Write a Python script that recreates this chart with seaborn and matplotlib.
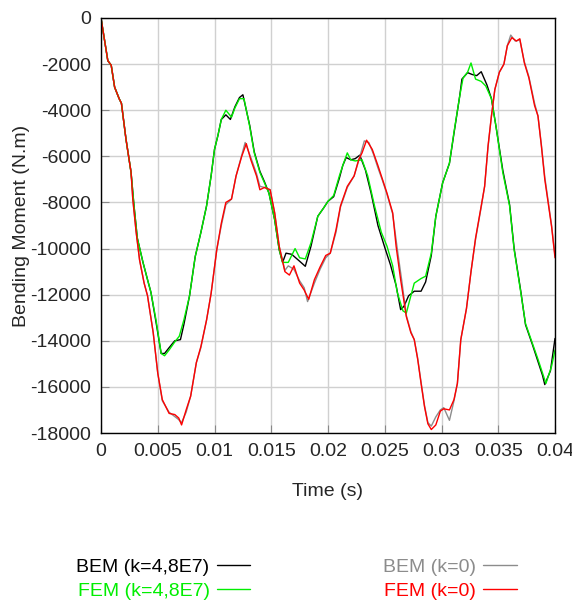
import numpy as np
import pandas as pd
import seaborn as sns
import matplotlib.pyplot as plt

# FEM (k=4,8E7) - green
fem_k_t = [0, 0.0006, 0.0009, 0.0012, 0.0016, 0.0018, 0.0022, 0.00265, 0.0029, 0.0032,
           0.0037, 0.0041, 0.0044, 0.00485, 0.0053, 0.0056, 0.0060, 0.0065, 0.0069, 0.0073,
           0.0078, 0.0083, 0.0088, 0.0093, 0.0097, 0.0100, 0.0103, 0.0106, 0.0110, 0.0115,
           0.0118, 0.0122, 0.0126, 0.0131, 0.0135, 0.0140, 0.0144, 0.0148, 0.0153, 0.0157,
           0.0160, 0.0165, 0.0171, 0.0175, 0.0180, 0.0185, 0.0191, 0.0196, 0.0200, 0.0205,
           0.0210, 0.0213, 0.0217, 0.0220, 0.0224, 0.0230, 0.0235, 0.0241, 0.0247, 0.0252,
           0.0257, 0.0261, 0.0266, 0.0269, 0.0273, 0.0276, 0.0282, 0.0286, 0.0291, 0.0295,
           0.0301, 0.0307, 0.0311, 0.0316, 0.0319, 0.0323, 0.0326, 0.0330, 0.0335, 0.0339,
           0.0344, 0.0348, 0.0354, 0.0360, 0.0364, 0.0370, 0.0374, 0.0380, 0.0385, 0.0389,
           0.0392, 0.0397, 0.0400]
fem_k_m = [0, -1850, -2050, -3000, -3500, -3700, -5250, -6700, -8100, -9550,
           -10600, -11350, -11900, -13100, -14550, -14650, -14400, -14050, -13800, -13100,
           -12050, -10350, -9300, -8150, -6850, -5700, -5100, -4400, -4000, -4300,
           -3900, -3500, -3500, -4700, -5850, -6700, -7150, -7600, -8750, -10050,
           -10600, -10600, -10000, -10400, -10450, -9750, -8600, -8250, -7950, -7700,
           -6850, -6400, -5850, -6150, -6200, -6150, -6850, -8150, -9300, -9900,
           -10750, -11900, -12700, -12800, -12050, -11500, -11300, -11200, -10200, -8600,
           -7150, -6300, -4950, -3400, -2600, -2350, -1950, -2650, -2750, -2950,
           -3500, -4700, -6700, -8150, -10050, -11950, -13250, -14100, -14800, -15400,
           -15850, -15100, -14400]

# BEM (k=4,8E7) - black
bem_k_t = [0, 0.0006, 0.0009, 0.0012, 0.0016, 0.0018, 0.0022, 0.00265, 0.0029, 0.0032,
           0.0037, 0.0041, 0.0044, 0.00485, 0.0053, 0.0056, 0.0060, 0.0065, 0.0070, 0.0073,
           0.0078, 0.0083, 0.0088, 0.0093, 0.0097, 0.0100, 0.0103, 0.0106, 0.0110, 0.0114,
           0.0118, 0.0122, 0.0125, 0.0131, 0.0135, 0.0140, 0.0144, 0.0148, 0.0153, 0.0157,
           0.0160, 0.0163, 0.0168, 0.0175, 0.0180, 0.0185, 0.0191, 0.0196, 0.0200, 0.0205,
           0.0210, 0.0213, 0.0216, 0.0220, 0.0224, 0.0228, 0.0233, 0.0238, 0.0244, 0.0250,
           0.0255, 0.0260, 0.0264, 0.0267, 0.0271, 0.0276, 0.0282, 0.0286, 0.0291, 0.0295,
           0.0301, 0.0307, 0.0311, 0.0316, 0.0318, 0.0323, 0.0327, 0.0331, 0.0335, 0.0340,
           0.0344, 0.0348, 0.0354, 0.0360, 0.0364, 0.0370, 0.0374, 0.0380, 0.0385, 0.0389,
           0.0391, 0.0396, 0.0400]
bem_k_m = [0, -1850, -2050, -3000, -3500, -3700, -5250, -6700, -8100, -9550,
           -10600, -11350, -11900, -13200, -14550, -14550, -14300, -14000, -13950, -13300,
           -12050, -10350, -9300, -8150, -6850, -5700, -5100, -4400, -4200, -4400,
           -3850, -3450, -3330, -4650, -5800, -6650, -7100, -7600, -8750, -10050,
           -10600, -10200, -10250, -10550, -10770, -9900, -8600, -8250, -7950, -7750,
           -6950, -6400, -6050, -6150, -6100, -5950, -6600, -7600, -9000, -9950,
           -10700, -11600, -12650, -12500, -12050, -11850, -11850, -11450, -10300, -8600,
           -7150, -6300, -5000, -3400, -2650, -2370, -2450, -2500, -2330, -2900,
           -3500, -4700, -6600, -8100, -10000, -11900, -13300, -14150, -14900, -15500,
           -15900, -15300, -13900]

# FEM (k=0) - red
fem_0_t = [0, 0.0006, 0.0009, 0.0012, 0.0016, 0.0018, 0.0022, 0.00265, 0.0028, 0.0031,
           0.0034, 0.0038, 0.0041, 0.0046, 0.0050, 0.0054, 0.0060, 0.0065, 0.00685, 0.0071,
           0.0075, 0.0079, 0.0084, 0.0088, 0.0093, 0.0097, 0.0102, 0.0106, 0.0110, 0.0115,
           0.0119, 0.0124, 0.0128, 0.0132, 0.0137, 0.0140, 0.0144, 0.0149, 0.0153, 0.0157,
           0.0162, 0.0166, 0.0170, 0.0175, 0.0179, 0.0183, 0.0188, 0.0193, 0.0198, 0.0202,
           0.0207, 0.0211, 0.0217, 0.0223, 0.0227, 0.0230, 0.0234, 0.0239, 0.0244, 0.0248,
           0.0252, 0.0257, 0.0260, 0.0264, 0.0269, 0.0273, 0.0276, 0.0279, 0.0282, 0.0285,
           0.0288, 0.0291, 0.0295, 0.0299, 0.0302, 0.0307, 0.0311, 0.0314, 0.0317, 0.0322,
           0.0326, 0.0330, 0.0335, 0.0338, 0.0341, 0.0344, 0.0347, 0.0351, 0.0355, 0.0358,
           0.0362, 0.0366, 0.0369, 0.0373, 0.0377, 0.0382, 0.0385, 0.0388, 0.0391, 0.0397,
           0.0400]
fem_0_m = [0, -1850, -2050, -3000, -3500, -3700, -5250, -6700, -7850, -9300,
           -10500, -11500, -12050, -13650, -15400, -16550, -17150, -17200, -17350, -17650,
           -17000, -16400, -14950, -14250, -13100, -11950, -10050, -8900, -8000, -7850,
           -6850, -6000, -5450, -6150, -6850, -7450, -7350, -7450, -8450, -9900,
           -11000, -11150, -10750, -11500, -11800, -12200, -11350, -10800, -10300, -10200,
           -9200, -8150, -7300, -6850, -6150, -5850, -5300, -5700, -6400, -7000,
           -7600, -8450, -9900, -11350, -12950, -13650, -13950, -14800, -15850, -16850,
           -17600, -17850, -17650, -17050, -16950, -17000, -16550, -15850, -13950, -12600,
           -11000, -9550, -8150, -7300, -5550, -4250, -3100, -2350, -2000, -1200,
           -850, -1000, -900, -1950, -2600, -3800, -4250, -5550, -7000, -9050,
           -10400]

# BEM (k=0) - gray
bem_0_t = [0, 0.0006, 0.0009, 0.0012, 0.0016, 0.0018, 0.0022, 0.00265, 0.0028, 0.0031,
           0.0034, 0.0038, 0.0041, 0.0046, 0.0050, 0.0054, 0.0060, 0.0064, 0.0068, 0.0071,
           0.0075, 0.0079, 0.0084, 0.0088, 0.0093, 0.0097, 0.0102, 0.0106, 0.0110, 0.0115,
           0.0119, 0.0124, 0.0127, 0.0132, 0.0137, 0.0140, 0.0144, 0.0149, 0.0153, 0.0157,
           0.0162, 0.0165, 0.0170, 0.0175, 0.0179, 0.0182, 0.0188, 0.0193, 0.0198, 0.0202,
           0.0207, 0.0211, 0.0217, 0.0223, 0.0227, 0.0232, 0.0236, 0.0240, 0.0244, 0.0248,
           0.0252, 0.0257, 0.0261, 0.0265, 0.0269, 0.0273, 0.0276, 0.0279, 0.0282, 0.0285,
           0.0288, 0.0291, 0.0295, 0.0299, 0.0302, 0.0307, 0.0311, 0.0314, 0.0317, 0.0322,
           0.0326, 0.0330, 0.0335, 0.0338, 0.0341, 0.0344, 0.0347, 0.0351, 0.0355, 0.0358,
           0.0361, 0.0365, 0.0369, 0.0373, 0.0377, 0.0382, 0.0385, 0.0388, 0.0391, 0.0397,
           0.0400]
bem_0_m = [0, -1850, -2050, -3000, -3500, -3700, -5250, -6700, -7850, -9300,
           -10500, -11500, -12050, -13650, -15400, -16600, -17100, -17250, -17400, -17550,
           -17100, -16400, -14950, -14300, -13100, -11950, -10050, -9000, -8100, -7850,
           -6850, -5950, -5400, -6050, -6750, -7300, -7350, -7450, -8450, -9900,
           -10950, -10750, -10900, -11400, -11700, -12300, -11500, -10900, -10400, -10200,
           -9300, -8200, -7350, -6850, -6200, -5330, -5400, -5900, -6500, -7050,
           -7650, -8500, -10000, -11400, -12900, -13600, -13950, -14750, -15800, -16800,
           -17550, -17700, -17300, -17000, -16900, -17450, -16600, -15850, -13950, -12600,
           -11000, -9600, -8200, -7300, -5600, -4250, -3100, -2350, -2000, -1200,
           -740, -1000, -950, -1900, -2550, -3700, -4250, -5500, -6900, -9000,
           -10300]

labels = ['BEM (k=4,8E7)', 'BEM (k=0)', 'FEM (k=4,8E7)', 'FEM (k=0)']
colors = ['#000000', '#8c8c8c', '#00ee00', '#ff0000']

frames = []
for name, t, m in [(labels[0], bem_k_t, bem_k_m), (labels[1], bem_0_t, bem_0_m),
                   (labels[2], fem_k_t, fem_k_m), (labels[3], fem_0_t, fem_0_m)]:
    frames.append(pd.DataFrame({'t': t, 'M': m, 'series': name}))
df = pd.concat(frames, ignore_index=True)

sns.set_style('whitegrid')
plt.rcParams['font.family'] = ['Liberation Sans', 'DejaVu Sans']

fig = plt.figure(figsize=(5.72, 6.01), dpi=100)
ax = fig.add_axes([101 / 572, 1 - 433 / 601, 454 / 572, 415 / 601])

sns.lineplot(data=df, x='t', y='M', hue='series', hue_order=labels,
             palette=dict(zip(labels, colors)), linewidth=1.0, sort=False,
             estimator=None, ax=ax)

ax.set_xlim(0, 0.04)
ax.set_ylim(-18000, 0)
ax.set_xticks(np.arange(0, 0.0401, 0.005))
ax.set_xticklabels(['0', '0.005', '0.01', '0.015', '0.02', '0.025', '0.03', '0.035', '0.04'])
ax.set_yticks(np.arange(-18000, 1, 2000))
ax.set_yticklabels([str(v) for v in range(-18000, 1, 2000)])
ax.grid(True, color='#d0d0d0', linewidth=1.0)
for s in ax.spines.values():
    s.set_color('black')
    s.set_linewidth(1.0)
ax.tick_params(axis='both', direction='in', length=6, width=0.8, color='#888888',
               labelsize=14, pad=7, right=False, top=False, left=True, bottom=True)
ax.set_xlabel('Time (s)', fontsize=14, labelpad=17)
ax.set_ylabel('Bending Moment (N.m)', fontsize=14, labelpad=0)

handles, labs = ax.get_legend_handles_labels()
order = [0, 2, 1, 3]
ax.get_legend().remove()
fig.legend([handles[i] for i in order], [labs[i] for i in order],
           loc='upper left', bbox_to_anchor=(59 / 572, 1 - 541 / 601), ncol=2,
           frameon=False, markerfirst=False, labelcolor='linecolor',
           fontsize=14, handlelength=1.7, handletextpad=0.4,
           columnspacing=6.8, labelspacing=0.3)

fig.savefig('out.png', dpi=100)
